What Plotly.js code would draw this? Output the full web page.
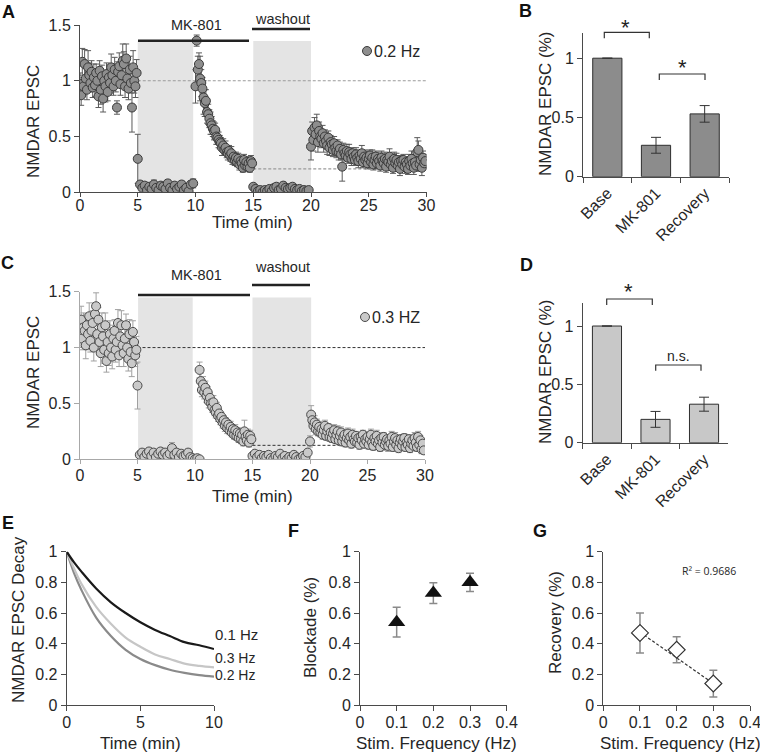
<!DOCTYPE html>
<html><head><meta charset="utf-8">
<script src="https://cdn.plot.ly/plotly-3.0.1.min.js"></script>
<style>body{margin:0;padding:0;background:#fff}#chart{width:760px;height:754px}</style>
</head><body><div id="chart"></div>
<script>
// ---------- Panel A (0.2 Hz) ----------
const a_base = [0.97,0.87,1.17,0.95,1.15,1.02,0.92,1.12,1.05,0.98,
 1.08,0.94,1.03,0.96,1.07,1.00,0.86,1.09,0.92,1.04,
 0.84,1.00,0.95,1.06,0.90,1.03,0.98,1.12,1.05,0.95,
 1.10,1.00,0.76,1.08,1.13,0.97,1.05,1.18,1.15,0.95,
 1.20,1.02,0.93,1.10,0.98,0.76,1.12,1.00,0.95,1.07];
const a_base_err = [0.10,0.09,0.12,0.08,0.13,0.10,0.09,0.15,0.11,0.08,
 0.10,0.09,0.12,0.10,0.08,0.11,0.10,0.09,0.13,0.10,
 0.12,0.09,0.14,0.10,0.08,0.11,0.09,0.12,0.10,0.08,
 0.11,0.10,0.06,0.09,0.12,0.10,0.09,0.15,0.11,0.10,
 0.13,0.09,0.10,0.12,0.09,0.22,0.15,0.11,0.10,0.12];
const a_block = [0.30,0.07,0.04,0.06,0.02,0.05,0.03,0.07,0.04,0.02,0.06,0.05,0.03,0.08,0.04,0.02,0.06,0.03,0.05,0.07,0.02,0.04,0.01,0.07,0.08];
const a_block_err = [0.22,0.03,0.02,0.03,0.02,0.03,0.02,0.04,0.02,0.02,0.03,0.02,0.02,0.03,0.02,0.02,0.03,0.02,0.02,0.03,0.02,0.02,0.02,0.03,0.04];
const a_rec1 = [0.95,1.36,1.10,1.15,1.02,0.98,0.93,0.85,0.80,0.82,
 0.72,0.70,0.66,0.62,0.60,0.57,0.55,0.56,0.50,0.49,
 0.47,0.45,0.44,0.40,0.42,0.38,0.40,0.36,0.35,0.37,
 0.33,0.35,0.30,0.32,0.29,0.31,0.27,0.30,0.25,0.28,
 0.26,0.22,0.29,0.24,0.27,0.23,0.26,0.22,0.28,0.26];
const a_rec1_err = [0.15,0.05,0.12,0.10,0.20,0.12,0.10,0.15,0.12,0.10,
 0.10,0.09,0.08,0.10,0.08,0.07,0.08,0.06,0.07,0.06,
 0.07,0.06,0.05,0.07,0.06,0.05,0.06,0.05,0.06,0.05,
 0.05,0.06,0.05,0.04,0.05,0.05,0.04,0.05,0.05,0.04,
 0.05,0.04,0.05,0.04,0.05,0.04,0.05,0.04,0.05,0.04];
const a_wash = [0.05,0.03,0.01,0.02,0.00,0.02,0.01,0.03,0.01,0.04,0.05,0.02,0.03,0.06,0.04,0.03,0.04,0.05,0.03,0.02,0.03,0.01,0.02,0.01,0.02];
const a_wash_err = [0.02,0.02,0.01,0.02,0.01,0.02,0.01,0.02,0.01,0.02,0.03,0.02,0.02,0.03,0.02,0.02,0.02,0.03,0.02,0.01,0.02,0.01,0.02,0.01,0.02];
const a_rec2 = [0.41,0.55,0.47,0.58,0.52,0.60,0.45,0.55,0.50,0.48,
 0.53,0.44,0.50,0.46,0.42,0.49,0.40,0.45,0.43,0.38,
 0.44,0.40,0.37,0.42,0.36,0.39,0.34,0.23,0.38,0.35,
 0.33,0.37,0.31,0.36,0.34,0.30,0.35,0.32,0.29,0.34,
 0.31,0.28,0.33,0.30,0.35,0.27,0.32,0.29,0.31,0.26,
 0.30,0.33,0.27,0.31,0.25,0.29,0.32,0.26,0.30,0.28,
 0.24,0.31,0.28,0.26,0.30,0.23,0.29,0.27,0.32,0.25,
 0.28,0.22,0.30,0.26,0.29,0.24,0.27,0.21,0.28,0.25,
 0.29,0.23,0.27,0.25,0.21,0.28,0.24,0.30,0.26,0.22,
 0.27,0.24,0.36,0.38,0.25,0.29,0.22,0.31,0.26,0.28];
const a_rec2_err = [0.12,0.08,0.10,0.09,0.08,0.10,0.09,0.08,0.07,0.08,
 0.07,0.08,0.06,0.07,0.08,0.06,0.07,0.06,0.07,0.06,
 0.06,0.07,0.06,0.05,0.07,0.06,0.05,0.13,0.06,0.05,
 0.05,0.06,0.05,0.07,0.05,0.06,0.05,0.06,0.05,0.06,
 0.05,0.06,0.05,0.05,0.07,0.05,0.06,0.05,0.06,0.05,
 0.06,0.05,0.05,0.07,0.05,0.06,0.05,0.05,0.06,0.05,
 0.05,0.06,0.05,0.05,0.06,0.05,0.06,0.05,0.07,0.05,
 0.06,0.05,0.06,0.05,0.06,0.05,0.05,0.06,0.05,0.06,
 0.05,0.06,0.05,0.06,0.05,0.06,0.05,0.07,0.05,0.06,
 0.06,0.05,0.13,0.08,0.06,0.05,0.07,0.06,0.05,0.06];

// ---------- Panel C (0.3 Hz) ----------
const c_base = [1.10,1.25,1.08,1.18,1.15,1.02,1.20,1.12,1.28,1.06,
 1.15,1.22,1.00,1.30,1.37,1.12,1.25,1.05,0.95,1.18,
 1.10,0.98,1.20,0.88,1.05,0.95,1.12,1.00,0.92,1.08,
 1.15,0.98,1.05,1.22,0.93,1.10,1.20,1.02,0.95,1.08,
 1.20,1.00,0.90,1.12,0.96,0.86,1.14,1.05,0.93,0.98];
const c_base_err = [0.10,0.12,0.10,0.13,0.11,0.12,0.10,0.14,0.12,0.10,
 0.13,0.11,0.12,0.10,0.12,0.14,0.11,0.10,0.12,0.13,
 0.10,0.12,0.11,0.10,0.13,0.11,0.12,0.10,0.11,0.12,
 0.10,0.11,0.13,0.12,0.10,0.11,0.13,0.10,0.12,0.11,
 0.10,0.12,0.11,0.13,0.10,0.12,0.10,0.11,0.10,0.12];
const c_block = [0.66,0.04,0.06,0.02,0.05,0.07,0.03,0.06,0.02,0.05,0.07,0.04,0.06,0.03,0.05,0.10,0.04,0.06,0.02,0.05,0.03,0.04,0.06,0.02,0.01,0.00,0.01,0.00];
const c_block_err = [0.21,0.02,0.03,0.02,0.02,0.03,0.02,0.03,0.02,0.02,0.03,0.02,0.03,0.02,0.02,0.05,0.02,0.03,0.02,0.02,0.02,0.02,0.03,0.02,0.01,0.01,0.01,0.01];
const c_rec1 = [0.80,0.70,0.62,0.67,0.60,0.64,0.57,0.60,0.52,0.55,
 0.50,0.47,0.51,0.44,0.42,0.46,0.39,0.41,0.36,0.38,
 0.33,0.35,0.30,0.33,0.28,0.31,0.26,0.29,0.24,0.27,
 0.22,0.26,0.21,0.24,0.19,0.23,0.18,0.22,0.16,0.25,
 0.20,0.17,0.22,0.15,0.21,0.18];
const c_rec1_err = [0.07,0.07,0.06,0.07,0.06,0.06,0.06,0.05,0.06,0.05,
 0.05,0.05,0.06,0.05,0.05,0.05,0.05,0.04,0.05,0.04,
 0.05,0.04,0.05,0.04,0.05,0.04,0.04,0.05,0.04,0.04,
 0.04,0.05,0.04,0.04,0.04,0.05,0.04,0.04,0.04,0.10,
 0.05,0.04,0.05,0.04,0.05,0.04];
const c_wash = [0.03,0.05,0.02,0.04,0.01,0.03,0.02,0.04,0.01,0.00,0.03,0.02,0.05,0.01,0.03,0.00,0.02,0.01,0.04,0.02,0.00,0.01,0.03,0.02,0.06];
const c_wash_err = [0.02,0.02,0.01,0.02,0.01,0.02,0.01,0.02,0.01,0.01,0.02,0.01,0.02,0.01,0.02,0.01,0.01,0.01,0.02,0.01,0.01,0.01,0.02,0.01,0.02];
const c_rec2 = [0.16,0.40,0.35,0.30,0.33,0.27,0.31,0.25,0.29,0.24,
 0.27,0.22,0.26,0.30,0.21,0.25,0.28,0.20,0.24,0.19,
 0.23,0.26,0.18,0.22,0.25,0.17,0.21,0.24,0.16,0.20,
 0.22,0.15,0.19,0.23,0.17,0.20,0.14,0.22,0.18,0.16,
 0.21,0.15,0.19,0.13,0.20,0.17,0.22,0.14,0.18,0.16,
 0.20,0.13,0.18,0.22,0.15,0.12,0.19,0.16,0.21,0.14,
 0.17,0.11,0.19,0.15,0.20,0.13,0.16,0.18,0.12,0.17,
 0.14,0.20,0.11,0.16,0.19,0.13,0.17,0.10,0.15,0.18,
 0.12,0.16,0.19,0.11,0.15,0.13,0.18,0.10,0.14,0.17,
 0.12,0.19,0.15,0.11,0.20,0.13,0.17,0.09,0.14,0.08];
const c_rec2_err = [0.05,0.08,0.06,0.05,0.06,0.05,0.05,0.04,0.05,0.04,
 0.05,0.04,0.05,0.05,0.04,0.05,0.04,0.04,0.05,0.04,
 0.04,0.05,0.04,0.04,0.05,0.04,0.04,0.05,0.04,0.04,
 0.05,0.04,0.04,0.05,0.04,0.04,0.04,0.05,0.04,0.04,
 0.04,0.04,0.05,0.04,0.04,0.05,0.04,0.04,0.05,0.04,
 0.05,0.04,0.04,0.05,0.04,0.04,0.05,0.04,0.05,0.04,
 0.04,0.04,0.05,0.04,0.04,0.05,0.04,0.04,0.05,0.04,
 0.04,0.05,0.04,0.04,0.05,0.04,0.04,0.04,0.05,0.04,
 0.04,0.05,0.04,0.04,0.05,0.04,0.04,0.04,0.05,0.04,
 0.04,0.05,0.04,0.04,0.05,0.04,0.04,0.04,0.04,0.03];

// ---------- Panels B / D ----------
const bar_cats = ['Base','MK-801','Recovery'];
const b_vals = [1.0, 0.265, 0.53];
const b_err = [null, 0.067, 0.07];
const d_vals = [1.0, 0.20, 0.33];
const d_err = [null, 0.068, 0.06];

// ---------- Panel E ----------
const e_t = [0,0.5,1,2,3,4,5,6,7,8,9,10];
const e_01 = [1,0.93,0.87,0.76,0.67,0.60,0.54,0.49,0.45,0.41,0.39,0.365];
const e_03 = [1,0.89,0.79,0.64,0.53,0.44,0.38,0.33,0.30,0.27,0.255,0.245];
const e_02 = [1,0.86,0.75,0.57,0.45,0.36,0.30,0.26,0.23,0.21,0.195,0.185];

// ---------- Panels F / G ----------
const freq = [0.1, 0.2, 0.3];
const f_block = [0.54, 0.73, 0.80];
const f_err = [0.097, 0.068, 0.06];
const g_rec = [0.47, 0.36, 0.14];
const g_err = [0.13, 0.085, 0.087];
const g_trend_x = [0.1, 0.3];
const g_trend_y = [0.475, 0.14];

// ---------- helpers ----------
const W = 760, H = 754;
const FONT = 'Liberation Sans, Arial, sans-serif';
const TXT = '#262626';
const AX = '#4a4a4a';
const hx = (a,b) => [a/W, b/W];
const hy = (top,bot) => [1-bot/H, 1-top/H];
const px = x => x/W;
const py = y => 1 - y/H;

function seg(y, err, x0, dx, xa, ya, fill, lc, ec){
  return {type:'scatter', mode:'markers', y:y, x0:x0, dx:dx, xaxis:xa, yaxis:ya,
    marker:{size:9, color:fill, line:{color:lc, width:1}},
    error_y:{type:'data', array:err, visible:true, color:ec, thickness:1, width:3},
    hoverinfo:'skip', showlegend:false, cliponaxis:true};
}
const AF = '#8e8e8e', AL = '#3a3a3a', AE = '#5a5a5a';
const CF = '#c9c9c9', CL = '#4a4a4a', CE = '#a0a0a0';

const traces = [
  seg(a_base, a_base_err, 0, 0.1, 'x','y', AF, AL, AE),
  seg(a_block, a_block_err, 5, 0.2, 'x','y', AF, AL, AE),
  seg(a_rec1, a_rec1_err, 10, 0.1, 'x','y', AF, AL, AE),
  seg(a_wash, a_wash_err, 15, 0.2, 'x','y', AF, AL, AE),
  seg(a_rec2, a_rec2_err, 20, 0.1, 'x','y', AF, AL, AE),
  seg(c_base, c_base_err, 0, 0.1, 'x3','y3', CF, CL, CE),
  seg(c_block, c_block_err, 5, 0.2, 'x3','y3', CF, CL, CE),
  seg(c_rec1, c_rec1_err, 10.4, 0.1, 'x3','y3', CF, CL, CE),
  seg(c_wash, c_wash_err, 15, 0.2, 'x3','y3', CF, CL, CE),
  seg(c_rec2, c_rec2_err, 20, 0.1, 'x3','y3', CF, CL, CE),
  {type:'bar', x:bar_cats, y:b_vals, xaxis:'x2', yaxis:'y2', width:0.6,
   marker:{color:'#8c8c8c', line:{color:'#2e2e2e', width:1}},
   error_y:{type:'data', array:b_err, visible:true, color:'#333', thickness:1, width:5}, showlegend:false, hoverinfo:'skip'},
  {type:'bar', x:bar_cats, y:d_vals, xaxis:'x4', yaxis:'y4', width:0.6,
   marker:{color:'#c8c8c8', line:{color:'#2e2e2e', width:1}},
   error_y:{type:'data', array:d_err, visible:true, color:'#333', thickness:1, width:5}, showlegend:false, hoverinfo:'skip'},
  {type:'scatter', mode:'lines', x:e_t, y:e_02, xaxis:'x5', yaxis:'y5', line:{color:'#8a8a8a', width:2.2, shape:'spline'}, showlegend:false, hoverinfo:'skip'},
  {type:'scatter', mode:'lines', x:e_t, y:e_03, xaxis:'x5', yaxis:'y5', line:{color:'#c6c6c6', width:2.2, shape:'spline'}, showlegend:false, hoverinfo:'skip'},
  {type:'scatter', mode:'lines', x:e_t, y:e_01, xaxis:'x5', yaxis:'y5', line:{color:'#1a1a1a', width:2.2, shape:'spline'}, showlegend:false, hoverinfo:'skip'},
  {type:'scatter', mode:'markers', x:freq, y:f_block, xaxis:'x6', yaxis:'y6',
   marker:{symbol:'triangle-up', size:15, color:'#111'},
   error_y:{type:'data', array:f_err, visible:true, color:'#8a8a8a', thickness:1.5, width:4}, showlegend:false, hoverinfo:'skip'},
  {type:'scatter', mode:'lines', x:g_trend_x, y:g_trend_y, xaxis:'x7', yaxis:'y7', line:{color:'#333', width:1.2, dash:'3px,2px'}, showlegend:false, hoverinfo:'skip'},
  {type:'scatter', mode:'markers', x:freq, y:g_rec, xaxis:'x7', yaxis:'y7',
   marker:{symbol:'diamond', size:13, color:'#fff', line:{color:'#333', width:1.2}},
   error_y:{type:'data', array:g_err, visible:true, color:'#8a8a8a', thickness:1.5, width:4}, showlegend:false, hoverinfo:'skip'}
];

function ax(extra){
  return Object.assign({showline:true, linecolor:AX, linewidth:1, ticks:'outside', ticklen:5, tickcolor:AX, tickwidth:1,
    showgrid:false, zeroline:false, tickfont:{family:FONT, size:16, color:TXT}, fixedrange:true, ticklabeloverflow:'allow'}, extra);
}
const CAX = '#a8a8a8';

const layout = {
  width:W, height:H, margin:{l:0,r:0,t:0,b:0}, paper_bgcolor:'#fff', plot_bgcolor:'rgba(0,0,0,0)',
  showlegend:false, font:{family:FONT, color:TXT}, bargap:0.4,
  xaxis: ax({domain:hx(80,426.5), anchor:'y', range:[0,30], dtick:5, tick0:0, ticklen:4, ticklabelstandoff:-6}),
  yaxis: ax({domain:hy(25,192.3), anchor:'x', range:[0,1.5], dtick:0.5, tick0:0}),
  xaxis2: ax({domain:hx(583,729), anchor:'y2', type:'category', range:[-0.5,2.5], tickangle:-45, tickson:'boundaries'}),
  yaxis2: ax({domain:hy(33.3,176.7), anchor:'x2', range:[0,1.21], dtick:0.5, tick0:0}),
  xaxis3: ax({domain:hx(80,425), anchor:'y3', range:[0,30], dtick:5, tick0:0, linecolor:CAX, tickcolor:CAX, ticklen:4, ticklabelstandoff:-3}),
  yaxis3: ax({domain:hy(291.7,459.3), anchor:'x3', range:[0,1.5], dtick:0.5, tick0:0, linecolor:CAX, tickcolor:CAX}),
  xaxis4: ax({domain:hx(582.7,728.3), anchor:'y4', type:'category', range:[-0.5,2.5], tickangle:-45, tickson:'boundaries'}),
  yaxis4: ax({domain:hy(302.7,442.7), anchor:'x4', range:[0,1.2], dtick:0.5, tick0:0}),
  xaxis5: ax({domain:hx(66.7,214), anchor:'y5', range:[0,10], dtick:5, tick0:0, ticklabelstandoff:-2}),
  yaxis5: ax({domain:hy(551.7,705), anchor:'x5', range:[0,1], dtick:0.2, tick0:0}),
  xaxis6: ax({domain:hx(360,506.7), anchor:'y6', range:[0,0.4], dtick:0.1, tick0:0, ticklabelstandoff:-2}),
  yaxis6: ax({domain:hy(551.7,705), anchor:'x6', range:[0,1], dtick:0.2, tick0:0}),
  xaxis7: ax({domain:hx(603.3,750), anchor:'y7', range:[0,0.4], dtick:0.1, tick0:0, ticklabelstandoff:-2}),
  yaxis7: ax({domain:hy(551.7,705), anchor:'x7', range:[0,1], dtick:0.2, tick0:0}),
  shapes: [], annotations: []
};

const S = layout.shapes, A = layout.annotations;
// Panel A decorations
S.push({type:'rect', xref:'x', yref:'y', x0:5, x1:9.8, y0:0, y1:1.357, fillcolor:'#e4e4e4', line:{width:0}, layer:'below'});
S.push({type:'rect', xref:'x', yref:'y', x0:15, x1:20, y0:0, y1:1.357, fillcolor:'#e4e4e4', line:{width:0}, layer:'below'});
S.push({type:'line', xref:'x', yref:'y', x0:5, x1:30, y0:1, y1:1, line:{color:'#9a9a9a', width:1.2, dash:'3px,2px'}, layer:'below'});
S.push({type:'line', xref:'x', yref:'y', x0:15, x1:30, y0:0.21, y1:0.21, line:{color:'#9a9a9a', width:1.2, dash:'3px,2px'}, layer:'below'});
S.push({type:'line', xref:'paper', yref:'paper', x0:px(138), x1:px(249), y0:py(40.7), y1:py(40.7), line:{color:'#222', width:2.6}});
S.push({type:'line', xref:'paper', yref:'paper', x0:px(252), x1:px(310), y0:py(29), y1:py(29), line:{color:'#222', width:2.6}});
S.push({type:'circle', xref:'paper', yref:'paper', x0:px(362.5), x1:px(371.5), y0:py(55.5), y1:py(46.5), fillcolor:AF, line:{color:AL, width:1}});
// Panel C decorations
S.push({type:'rect', xref:'x3', yref:'y3', x0:5.05, x1:9.8, y0:0, y1:1.447, fillcolor:'#e4e4e4', line:{width:0}, layer:'below'});
S.push({type:'rect', xref:'x3', yref:'y3', x0:15, x1:20.1, y0:0, y1:1.447, fillcolor:'#e4e4e4', line:{width:0}, layer:'below'});
S.push({type:'line', xref:'x3', yref:'y3', x0:5, x1:30, y0:1, y1:1, line:{color:'#333', width:1, dash:'3px,2px'}, layer:'below'});
S.push({type:'line', xref:'x3', yref:'y3', x0:15, x1:30, y0:0.125, y1:0.125, line:{color:'#333', width:1, dash:'3px,2px'}, layer:'below'});
S.push({type:'line', xref:'paper', yref:'paper', x0:px(138), x1:px(250), y0:py(295), y1:py(295), line:{color:'#222', width:2.6}});
S.push({type:'line', xref:'paper', yref:'paper', x0:px(252), x1:px(310), y0:py(285), y1:py(285), line:{color:'#222', width:2.6}});
S.push({type:'circle', xref:'paper', yref:'paper', x0:px(360.5), x1:px(369.5), y0:py(321.5), y1:py(312.5), fillcolor:CF, line:{color:CL, width:1}});
// Brackets B / D
function bracket(x0,x1,ytop,ybot){
  return {type:'path', xref:'paper', yref:'paper',
    path:`M ${px(x0)} ${py(ybot)} L ${px(x0)} ${py(ytop)} L ${px(x1)} ${py(ytop)} L ${px(x1)} ${py(ybot)}`,
    line:{color:'#333', width:1.2}};
}
S.push(bracket(604.3,649.3,32.3,38.3));
S.push(bracket(659.3,705,74,80));
S.push(bracket(606.7,652.3,299,305));
S.push(bracket(655.7,701,365,370.7));

function txt(t,x,y,opts){
  A.push(Object.assign({text:t, xref:'paper', yref:'paper', x:px(x), y:py(y), xanchor:'center', yanchor:'middle', showarrow:false,
    font:{family:FONT, size:16, color:TXT}}, opts||{}));
}
function bold(t,x,y){ txt('<b>'+t+'</b>', x, y, {font:{family:FONT, size:18, color:'#111'}}); }
bold('A',8.5,12.5); bold('B',525,11); bold('C',7.5,263); bold('D',526,265);
bold('E',7.5,523); bold('F',293,531); bold('G',540,531);

txt('MK-801',197,25,{font:{family:FONT,size:14.5,color:TXT}});
txt('washout',282,19,{font:{family:FONT,size:14.5,color:TXT}});
txt('MK-801',197,275,{font:{family:FONT,size:14.5,color:TXT}});
txt('washout',282,267,{font:{family:FONT,size:14.5,color:TXT}});
txt('0.2 Hz',372,51,{xanchor:'left'});
txt('0.3 HZ',370,317,{xanchor:'left'});

// axis titles
const T17 = {family:FONT,size:17,color:TXT};
txt('NMDAR EPSC',33,122,{textangle:-90,font:T17});
txt('Time (min)',253,223,{font:T17});
txt('NMDAR EPSC',33,373,{textangle:-90,font:T17});
txt('Time (min)',253,496,{font:T17});
txt('NMDAR EPSC (%)',545,104,{textangle:-90,font:T17});
txt('NMDAR EPSC (%)',545,372,{textangle:-90,font:T17});
txt('NMDAR EPSC Decay',18,620,{textangle:-90,font:T17});
txt('Time (min)',140,743,{font:T17});
txt('Blockade (%)',310,628,{textangle:-90,font:T17});
txt('Stim. Frequency (Hz)',437,743,{font:T17});
txt('Recovery (%)',555,623,{textangle:-90,font:T17});
txt('Stim. Frequency (Hz)',680,743,{font:T17});

// stars
txt('*',625.7,27,{font:{family:FONT,size:22,color:'#222'}});
txt('*',682,67,{font:{family:FONT,size:22,color:'#222'}});
txt('*',628,291,{font:{family:FONT,size:22,color:'#222'}});
txt('n.s.',678,356,{font:{family:FONT,size:14,color:TXT}});

// E labels
txt('0.1 Hz',213,634,{xanchor:'left',font:{family:FONT,size:15,color:TXT}});
txt('0.3 Hz',213,658,{xanchor:'left',font:{family:FONT,size:14,color:TXT}});
txt('0.2 Hz',213,675,{xanchor:'left',font:{family:FONT,size:14,color:TXT}});

// G r-squared
txt('R² = 0.9686',709,571,{font:{family:'Open Sans, sans-serif',size:10.5,color:TXT}});

Plotly.newPlot('chart', traces, layout, {staticPlot:true, displayModeBar:false});
</script>
</body></html>
